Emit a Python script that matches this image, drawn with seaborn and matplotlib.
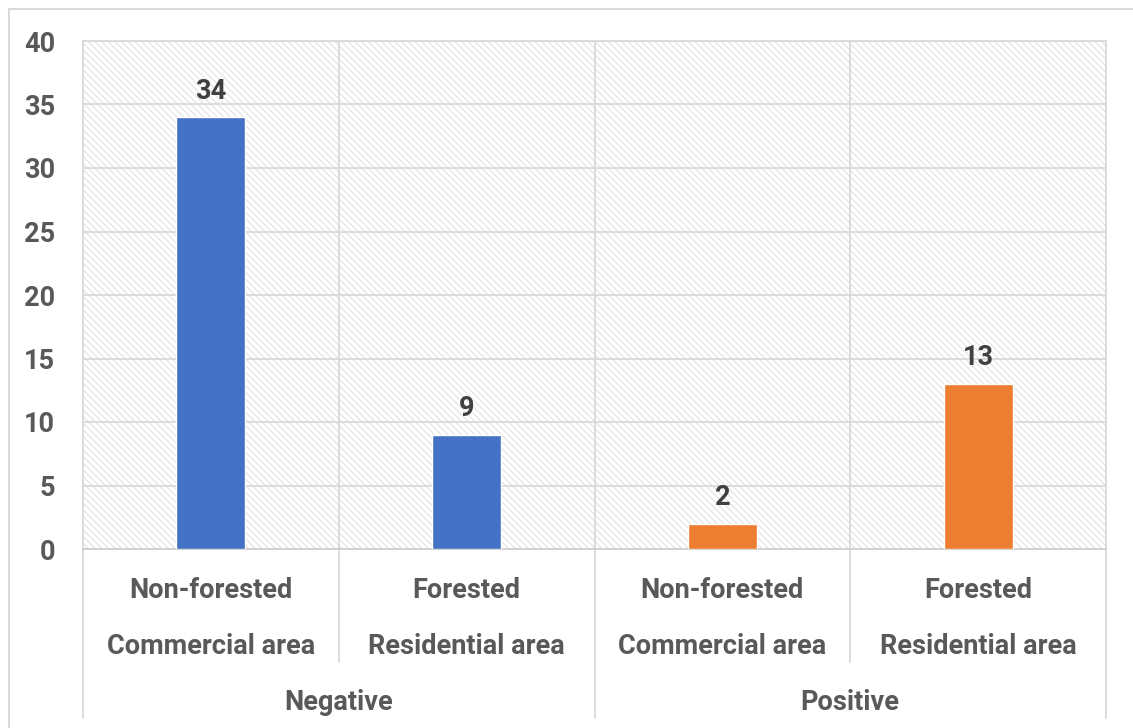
import matplotlib
matplotlib.use("Agg")
import matplotlib.pyplot as plt
from matplotlib.patches import Rectangle
from matplotlib.lines import Line2D
import matplotlib.transforms as mtransforms
import seaborn as sns
import pandas as pd

# Data
groups = ["Negative", "Negative", "Positive", "Positive"]
top_labels = ["Non-forested", "Forested", "Non-forested", "Forested"]
bottom_labels = ["Commercial area", "Residential area", "Commercial area", "Residential area"]
values = [34, 9, 2, 13]
group_names = ["Negative", "Positive"]
y_ticks = [0, 5, 10, 15, 20, 25, 30, 35, 40]

df = pd.DataFrame({
    "pos": [f"{i}" for i in range(len(values))],
    "group": groups,
    "value": values,
})

sns.set_theme(style="white")
plt.rcParams["font.family"] = ["Roboto", "DejaVu Sans"]
plt.rcParams["hatch.color"] = "#dedede"
plt.rcParams["hatch.linewidth"] = 0.7

TXT = "#595959"
GRID = "#d9d9d9"
FS = 19.5

fig = plt.figure(figsize=(11.33, 7.28), dpi=100)
ax = fig.add_axes([83 / 1133, 1 - 549 / 728, (1106 - 83) / 1133, (549 - 41) / 728])

# Hatched plot-area background
ax.add_patch(Rectangle((0, 0), 1, 1, transform=ax.transAxes, facecolor="white",
                       edgecolor="#dedede", hatch="\\\\\\\\\\", linewidth=0, zorder=0))

sns.barplot(data=df, x="pos", y="value", hue="group", dodge=False,
            palette={"Negative": "#4472C4", "Positive": "#ED7D31"},
            width=0.27, legend=False, ax=ax, zorder=3, saturation=1)

ax.set_ylim(0, 40)
ax.set_xlim(-0.5, len(values) - 0.5)
ax.set_yticks(y_ticks)
ax.set_yticklabels([str(t) for t in y_ticks], fontsize=FS, fontweight="bold", color=TXT)
ax.tick_params(axis="y", length=0, pad=20)
ax.set_xticks([])
ax.set_xlabel("")
ax.set_ylabel("")

# Gridlines
for t in y_ticks:
    ax.axhline(t, color=GRID, lw=1.3, zorder=1)
for x in [0.5, 1.5, 2.5]:
    ax.axvline(x, color=GRID, lw=1.3, zorder=1)
for s in ax.spines.values():
    s.set_color(GRID)
    s.set_linewidth(1.3)
ax.spines["bottom"].set_color("#cfcfcf")

# Value labels
for c in ax.containers:
    ax.bar_label(c, labels=[f"{v:g}" if v > 0 else "" for v in c.datavalues],
                 padding=9, fontsize=FS, fontweight="bold", color="#404040")

# Multi-level category axis
trans = mtransforms.blended_transform_factory(ax.transData, fig.transFigure)
def fy(py):
    return 1 - py / 728

for i in range(len(values)):
    ax.text(i, fy(590), top_labels[i], transform=trans, ha="center", va="center",
            fontsize=FS, fontweight="bold", color=TXT)
    ax.text(i, fy(646), bottom_labels[i], transform=trans, ha="center", va="center",
            fontsize=FS, fontweight="bold", color=TXT)

for x in [0.5, 2.5]:
    ax.add_line(Line2D([x, x], [fy(549), fy(662)], transform=trans, color=GRID,
                       lw=1.3, clip_on=False))
for x in [-0.5, 1.5, 3.5]:
    ax.add_line(Line2D([x, x], [fy(549), fy(718)], transform=trans, color=GRID,
                       lw=1.3, clip_on=False))

for gi, g in enumerate(group_names):
    ax.text(0.5 + 2 * gi, fy(703), g, transform=trans, ha="center", va="center",
            fontsize=FS, fontweight="bold", color=TXT)

# Outer chart frame
fig.add_artist(Line2D([9 / 1133, 9 / 1133], [0, fy(9)], transform=fig.transFigure,
                      color=GRID, lw=1.5))
fig.add_artist(Line2D([9 / 1133, 1], [fy(9), fy(9)], transform=fig.transFigure,
                      color=GRID, lw=1.5))

fig.savefig("out.png", dpi=100)
